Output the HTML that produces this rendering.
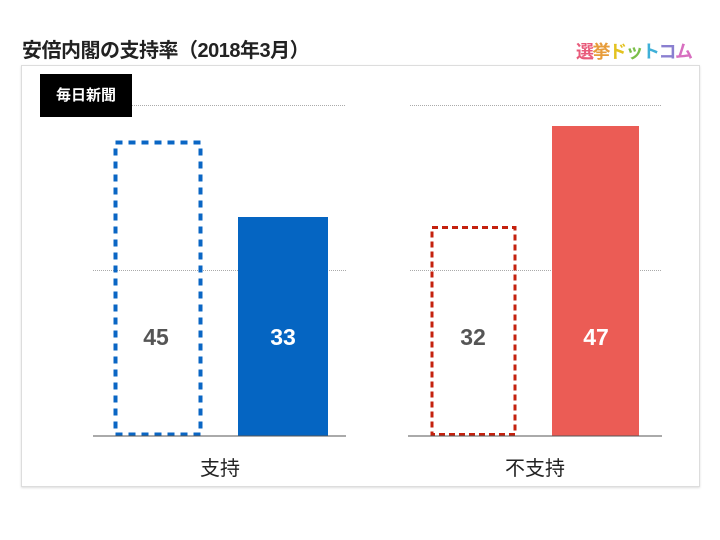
<!DOCTYPE html>
<html><head><meta charset="utf-8"><style>
body{margin:0;width:720px;height:540px;background:#fff;font-family:"Liberation Sans","Noto Sans CJK JP",sans-serif;position:relative;overflow:hidden}
.a{position:absolute}
</style></head><body>
<div class="a" style="left:22px;top:34px;font-size:20px;font-weight:bold;color:#222;letter-spacing:-0.5px">安倍内閣の支持率（2018年3月）</div>
<div class="a" style="left:576px;top:38px;font-size:18px;font-weight:bold;letter-spacing:-1.5px"><span style="color:#e85a7a">選</span><span style="color:#e79c3a">挙</span><span style="color:#e3c21f">ド</span><span style="color:#7bbf4a">ッ</span><span style="color:#3fb0d8">ト</span><span style="color:#8a7fd0">コ</span><span style="color:#d86fc0">ム</span></div>
<div class="a" style="left:21px;top:65px;width:677px;height:420px;border:1px solid #ddd;box-shadow:0 1px 2px #ddd"></div>
<div class="a" style="left:40px;top:74px;width:92px;height:43px;background:#000;color:#fff;font-weight:bold;font-size:15px;line-height:43px;text-align:center">毎日新聞</div>
<svg class="a" style="left:0;top:0" width="720" height="540">
<g stroke="#aaa" stroke-width="1" stroke-dasharray="1,1">
<line x1="132" y1="105.5" x2="346" y2="105.5"/><line x1="410" y1="105.5" x2="662" y2="105.5"/>
<line x1="93" y1="270.5" x2="346" y2="270.5"/><line x1="410" y1="270.5" x2="662" y2="270.5"/>
</g>
<rect x="115.5" y="142.5" width="85" height="292" fill="none" stroke="#0a66c4" stroke-width="4" stroke-dasharray="7,6"/>
<rect x="238" y="217" width="90" height="219" fill="#0565c2"/>
<rect x="432" y="227.5" width="83" height="207" fill="none" stroke="#c4210e" stroke-width="3" stroke-dasharray="6,4"/>
<rect x="552" y="126" width="87" height="310" fill="#eb5c55"/>
<line x1="93" y1="436" x2="346" y2="436" stroke="#555" stroke-width="1"/>
<line x1="408" y1="436" x2="662" y2="436" stroke="#555" stroke-width="1"/>
<g font-family="Liberation Sans,sans-serif" font-weight="bold" font-size="23" text-anchor="middle">
<text x="156" y="345" fill="#555">45</text><text x="283" y="345" fill="#fff">33</text>
<text x="473" y="345" fill="#555">32</text><text x="596" y="345" fill="#fff">47</text>
</g>
<g font-family="Liberation Sans,Noto Sans CJK JP,sans-serif" font-size="20" text-anchor="middle" fill="#222">
<text x="220" y="475">支持</text><text x="535" y="475">不支持</text>
</g>
</svg>
</body></html>
